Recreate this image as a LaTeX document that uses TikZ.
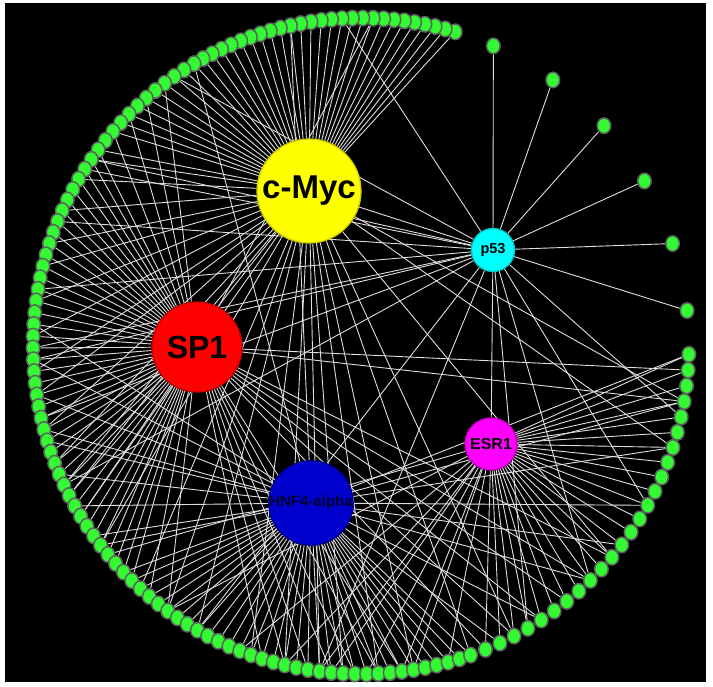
\documentclass[tikz,border=0pt]{standalone}
\usepackage{fontspec}
\setmainfont{Liberation Sans}
\usetikzlibrary{shapes.geometric}
\pgfdeclarelayer{backdrop}
\pgfdeclarelayer{edges}
\pgfsetlayers{backdrop,edges,main}
\definecolor{leaf}{RGB}{51,250,51}
\definecolor{leafrim}{RGB}{90,100,90}
\definecolor{wirec}{RGB}{222,222,222}
\definecolor{mycfill}{RGB}{255,255,0}
\definecolor{mycrim}{RGB}{205,205,0}
\definecolor{spfill}{RGB}{255,0,0}
\definecolor{sprim}{RGB}{200,0,0}
\definecolor{hnffill}{RGB}{0,0,205}
\definecolor{hnfrim}{RGB}{0,0,150}
\definecolor{hnftext}{RGB}{0,0,50}
\definecolor{esrfill}{RGB}{255,0,255}
\definecolor{esrrim}{RGB}{200,0,200}
\definecolor{pfill}{RGB}{0,255,255}
\definecolor{prim}{RGB}{0,200,200}
\begin{document}
\begin{tikzpicture}[x=1pt,y=-1pt,
  leafnode/.style={ellipse,draw=leafrim,line width=1.5pt,fill=leaf,
    minimum width=13.5pt,minimum height=15.5pt,inner sep=0pt},
  hub/.style={circle,inner sep=0pt,line width=1.3pt,text=black},
  wire/.style={draw=wirec,line width=0.9pt}]
\begin{pgfonlayer}{backdrop}
\fill[white] (0,0) rectangle (713,687);
\fill[black] (5,3) rectangle (706,682);
\end{pgfonlayer}
\useasboundingbox (0,0) rectangle (713,687);

% ring of leaf genes around (361,346), radius 328
\foreach \i in {0,...,25}{
  \pgfmathsetmacro\t{73.3+1.82*\i}
  \pgfmathtruncatemacro\n{\i+1}
  \node[leafnode] (g\n) at ({361+328*cos(\t)},{346-328*sin(\t)}) {};
}
\foreach \i in {0,...,82}{
  \pgfmathsetmacro\t{120.6+2.06*\i}
  \pgfmathtruncatemacro\n{\i+27}
  \node[leafnode] (g\n) at ({361+328*cos(\t)},{346-328*sin(\t)}) {};
}
\foreach \i in {0,...,24}{
  \pgfmathsetmacro\t{292.3+2.76*\i}
  \pgfmathtruncatemacro\n{\i+110}
  \node[leafnode] (g\n) at ({361+328*cos(\t)},{346-328*sin(\t)}) {};
}
% targets of p53 alone
\foreach \i in {1,...,6}{
  \pgfmathsetmacro\t{78.2-12*\i}
  \node[leafnode] (q\i) at ({361+328*cos(\t)},{346-328*sin(\t)}) {};
}

% hubs
\node[hub,fill=mycfill,draw=mycrim,minimum size=104pt,
  font=\bfseries\fontsize{33}{33}\selectfont] (cmyc) at (309,191) {c-Myc};
\node[hub,fill=spfill,draw=sprim,minimum size=90pt,
  font=\bfseries\fontsize{32}{32}\selectfont] (sp1) at (197,347) {SP1};
\node[hub,fill=hnffill,draw=hnfrim,minimum size=83pt,text=hnftext,
  font=\bfseries\fontsize{15}{15}\selectfont] (hnf) at (311,503) {HNF4-alpha};
\node[hub,fill=esrfill,draw=esrrim,minimum size=52pt,
  font=\bfseries\fontsize{16}{16}\selectfont] (esr) at (491,444) {ESR1};
\node[hub,fill=pfill,draw=prim,minimum size=43pt,
  font=\bfseries\fontsize{14.5}{14.5}\selectfont] (p53) at (493,250) {p53};

\begin{pgfonlayer}{edges}
\foreach \i in {1,...,6}{ \draw[wire] (p53) -- (q\i); }
\draw[wire] (p53) -- (esr);
\draw[wire] (p53) -- (cmyc);
\foreach \n in {1,...,134}{
  \pgfmathsetmacro\t{\n<27 ? 73.3+1.82*(\n-1) : (\n<110 ? 120.6+2.06*(\n-27) : 292.3+2.76*(\n-110))}
  % share of leaves in each sector tied to each hub
  \pgfmathsetmacro\pc{\t<140 ? 1 : (\t<215 ? 0.4 : (\t<292 ? 0.3 : 0.15))}
  \pgfmathsetmacro\ps{\t<115 ? 0.03 : (\t<145 ? 0.3 : (\t<225 ? 1 : (\t<292 ? 0.35 : 0.3)))}
  \pgfmathsetmacro\ph{\t<180 ? 0.03 : (\t<222 ? 0.4 : (\t<292 ? 1 : 0.25))}
  \pgfmathsetmacro\pe{\t<230 ? 0.03 : (\t<255 ? 0.15 : (\t<292 ? 0.4 : 1))}
  \pgfmathsetmacro\pp{\t<140 ? 0.05 : (\t<200 ? 0.25 : (\t<292 ? 0.08 : 0.15))}
  \pgfmathtruncatemacro\kc{mod(\n*37+11,101) < 101*\pc}
  \pgfmathtruncatemacro\ks{mod(\n*53+29,101) < 101*\ps}
  \pgfmathtruncatemacro\kh{mod(\n*71+5,101) < 101*\ph}
  \pgfmathtruncatemacro\ke{mod(\n*29+47,101) < 101*\pe}
  \pgfmathtruncatemacro\kp{mod(\n*83+17,101) < 101*\pp}
  \ifnum\kc=1 \draw[wire] (cmyc) -- (g\n);\fi
  \ifnum\ks=1 \draw[wire] (sp1) -- (g\n);\fi
  \ifnum\kh=1 \draw[wire] (hnf) -- (g\n);\fi
  \ifnum\ke=1 \draw[wire] (esr) -- (g\n);\fi
  \ifnum\kp=1 \draw[wire] (p53) -- (g\n);\fi
}
\end{pgfonlayer}
\end{tikzpicture}
\end{document}
